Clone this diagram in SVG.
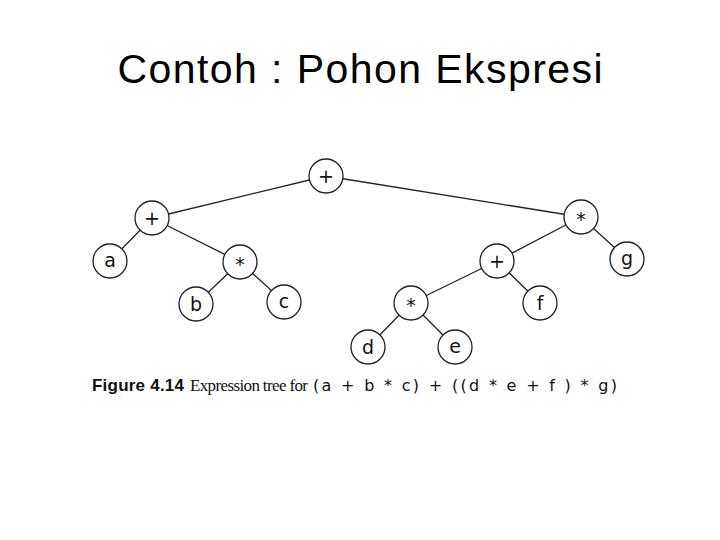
<svg xmlns="http://www.w3.org/2000/svg" width="720" height="540" viewBox="0 0 720 540">
<style>
.n circle{fill:#fff;stroke:#222;stroke-width:1.3}
.n text{font-family:"DejaVu Sans",sans-serif;font-size:19px;text-anchor:middle;fill:#111}
.e line{stroke:#222;stroke-width:1.3}
</style>
<rect width="720" height="540" fill="#fff"/>
<text x="360" y="83" font-family="Liberation Sans,Arial,sans-serif" font-size="41" text-anchor="middle" fill="#000" textLength="485">Contoh : Pohon Ekspresi</text>
<g class="e">
<line x1="326" y1="176" x2="152" y2="218"/>
<line x1="326" y1="176" x2="581" y2="217"/>
<line x1="152" y1="218" x2="110" y2="261"/>
<line x1="152" y1="218" x2="240" y2="262"/>
<line x1="240" y1="262" x2="196" y2="304"/>
<line x1="240" y1="262" x2="284" y2="302"/>
<line x1="581" y1="217" x2="497" y2="261"/>
<line x1="581" y1="217" x2="627" y2="259"/>
<line x1="497" y1="261" x2="411" y2="303"/>
<line x1="497" y1="261" x2="540" y2="303"/>
<line x1="411" y1="303" x2="368" y2="347"/>
<line x1="411" y1="303" x2="455" y2="347"/>
</g>
<g class="n" id="n1"><circle cx="326" cy="176" r="17"/><text x="326" y="183">+</text></g>
<g class="n" id="n2"><circle cx="152" cy="218" r="17"/><text x="152" y="225">+</text></g>
<g class="n" id="n3"><circle cx="581" cy="217" r="17"/><text x="581" y="226">*</text></g>
<g class="n" id="n4"><circle cx="110" cy="261" r="17"/><text x="110" y="267">a</text></g>
<g class="n" id="n5"><circle cx="240" cy="262" r="17"/><text x="240" y="271">*</text></g>
<g class="n" id="n6"><circle cx="497" cy="261" r="17"/><text x="497" y="268">+</text></g>
<g class="n" id="n7"><circle cx="627" cy="259" r="17"/><text x="627" y="265">g</text></g>
<g class="n" id="n8"><circle cx="196" cy="304" r="17"/><text x="196" y="311">b</text></g>
<g class="n" id="n9"><circle cx="284" cy="302" r="17"/><text x="284" y="308">c</text></g>
<g class="n" id="n10"><circle cx="411" cy="303" r="17"/><text x="411" y="312">*</text></g>
<g class="n" id="n11"><circle cx="540" cy="303" r="17"/><text x="540" y="310">f</text></g>
<g class="n" id="n12"><circle cx="368" cy="347" r="17"/><text x="368" y="354">d</text></g>
<g class="n" id="n13"><circle cx="455" cy="347" r="17"/><text x="455" y="353">e</text></g>
<text y="391" font-size="17" fill="#111"><tspan x="92" font-family="Liberation Sans,sans-serif" font-weight="bold" textLength="92">Figure 4.14</tspan><tspan x="190" font-family="Liberation Serif,serif" textLength="118">Expression tree for</tspan><tspan x="313" font-family="DejaVu Sans,sans-serif" font-size="16" textLength="304">(a + b * c) + ((d * e + f ) * g)</tspan></text>
</svg>
